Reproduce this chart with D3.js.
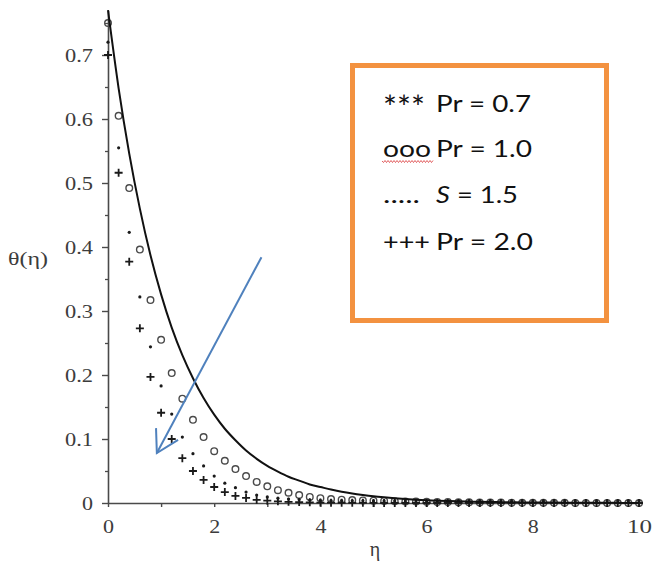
<!DOCTYPE html>
<html>
<head>
<meta charset="utf-8">
<script src="https://cdn.jsdelivr.net/npm/d3@7/dist/d3.min.js"></script>
<style>
  html, body { margin: 0; padding: 0; background: #fff; }
  svg { display: block; }
</style>
</head>
<body>
<script>
// Similarity variable grid
const eta = [
  0, 0.2, 0.4, 0.6, 0.8, 1, 1.2, 1.4, 1.6, 1.8,
  2, 2.2, 2.4, 2.6, 2.8, 3, 3.2, 3.4, 3.6, 3.8,
  4, 4.2, 4.4, 4.6, 4.8, 5, 5.2, 5.4, 5.6, 5.8,
  6, 6.2, 6.4, 6.6, 6.8, 7, 7.2, 7.4, 7.6, 7.8,
  8, 8.2, 8.4, 8.6, 8.8, 9, 9.2, 9.4, 9.6, 9.8,
  10
];

// Temperature profiles theta(eta)
const thetaPr07 = [
  0.770, 0.648, 0.546, 0.460, 0.387, 0.326, 0.274, 0.231, 0.195, 0.164,
  0.138, 0.116, 0.098, 0.082, 0.069, 0.058, 0.049, 0.041, 0.035, 0.029,
  0.025, 0.021, 0.0175, 0.0147, 0.0124, 0.0104, 0.0088, 0.0074, 0.0062, 0.0052,
  0.0044, 0.0037, 0.0031, 0.0026, 0.0022, 0.0018, 0.0015, 0.0013, 0.0011, 0.0009,
  0.0008, 0.0007, 0.0006, 0.0005, 0.0004, 0.0003, 0.0003, 0.0002, 0.0002, 0.0001,
  0.0001
];
const thetaPr10 = [
  0.750, 0.605, 0.492, 0.396, 0.317, 0.255, 0.203, 0.163, 0.130, 0.103,
  0.081, 0.066, 0.053, 0.042, 0.033, 0.026, 0.020, 0.016, 0.0125, 0.0095,
  0.0075, 0.0062, 0.0052, 0.0045, 0.0040, 0.0036, 0.0032, 0.0028, 0.0025, 0.0022,
  0.0019, 0.0016, 0.0014, 0.0012, 0.0010, 0.0008, 0.0007, 0.0006, 0.0005, 0.0004,
  0.0003, 0.0003, 0.0002, 0.0002, 0.0001, 0.0001, 0.0001, 0.0001, 0, 0,
  0
];
const thetaS15 = [
  0.720, 0.555, 0.423, 0.322, 0.244, 0.183, 0.139, 0.103, 0.077, 0.058,
  0.042, 0.031, 0.024, 0.017, 0.0125, 0.0095, 0.0075, 0.0062, 0.0053, 0.0046,
  0.0042, 0.0039, 0.0037, 0.0035, 0.0034, 0.0033, 0.0032, 0.0032, 0.0031, 0.0031,
  0.0030, 0.0030, 0.0030, 0.0030, 0.0030, 0.0030, 0.0030, 0.0030, 0.0030, 0.0030,
  0.0030, 0.0030, 0.0030, 0.0030, 0.0030, 0.0030, 0.0030, 0.0030, 0.0030, 0.0030,
  0.0030
];
const thetaPr20 = [
  0.700, 0.516, 0.377, 0.273, 0.197, 0.141, 0.100, 0.070, 0.050, 0.036,
  0.025, 0.017, 0.011, 0.008, 0.005, 0.0036, 0.0026, 0.0019, 0.0014, 0.0010,
  0.0007, 0.0005, 0.0004, 0.0003, 0.0002, 0.0001, 0, 0, 0, 0,
  0, 0, 0, 0, 0, 0, 0, 0, 0, 0,
  0, 0, 0, 0, 0, 0, 0, 0, 0, 0,
  0
];

// Axis ticks
const xTicks = [0, 1, 2, 3, 4, 5, 6, 7, 8, 9, 10];
const xTickLabels = ["0", "", "2", "", "4", "", "6", "", "8", "", "10"];
const yTicks = [0, 0.1, 0.2, 0.3, 0.4, 0.5, 0.6, 0.7];
const yTickLabels = ["0", "0.1", "0.2", "0.3", "0.4", "0.5", "0.6", "0.7"];
const yMinorTicks = [0.05, 0.15, 0.25, 0.35, 0.45, 0.55, 0.65, 0.75];

// Trend arrow (eta, theta) from tail to head
const arrowFrom = [2.89, 0.384];
const arrowTo = [0.92, 0.078];

// Legend entries
const legendSymbols = ["***", "ooo", ".....", "+++"];
const legendNames = ["Pr", "Pr", "S", "Pr"];
const legendValues = ["0.7", "1.0", "1.5", "2.0"];

const W = 653, H = 566;
const svg = d3.select("body").append("svg").attr("width", W).attr("height", H);
svg.append("rect").attr("width", W).attr("height", H).attr("fill", "#fff");

const x = d3.scaleLinear().domain([0, 10]).range([108, 639]);
const y = d3.scaleLinear().domain([0, 0.77]).range([503, 10.2]);

const axisColor = "#4a4a4a";
const serif = "'Liberation Serif', 'DejaVu Serif', serif";

// Y axis
const yAxisG = svg.append("g").attr("transform", `translate(${x(0)},0)`)
  .call(d3.axisLeft(y).tickValues(yTicks).tickSize(6).tickSizeOuter(0).tickPadding(9)
    .tickFormat((d, i) => yTickLabels[i]));
svg.append("g").attr("transform", `translate(${x(0)},0)`)
  .call(d3.axisLeft(y).tickValues(yMinorTicks).tickSize(3).tickFormat(""))
  .call(g => g.select(".domain").remove())
  .selectAll("line").attr("stroke", axisColor).attr("stroke-width", 1.3);
yAxisG.select(".domain").attr("stroke", axisColor).attr("stroke-width", 1.6);
yAxisG.selectAll(".tick line").attr("stroke", axisColor).attr("stroke-width", 1.4);
yAxisG.selectAll(".tick text")
  .attr("font-family", serif).attr("font-size", 19).attr("fill", "#3c3c3c")
  .attr("textLength", (d, i) => yTickLabels[i].length > 1 ? 28 : 11)
  .attr("lengthAdjust", "spacingAndGlyphs");

// X axis
const xAxisG = svg.append("g").attr("transform", `translate(0,${y(0)})`)
  .call(d3.axisBottom(x).tickValues(xTicks).tickSize(4).tickSizeOuter(0)
    .tickFormat((d, i) => xTickLabels[i]));
xAxisG.select(".domain").attr("stroke", axisColor).attr("stroke-width", 1.6);
xAxisG.selectAll(".tick line").attr("stroke", axisColor).attr("stroke-width", 1.4);
xAxisG.selectAll(".tick text")
  .attr("font-family", serif).attr("font-size", 19).attr("fill", "#3c3c3c")
  .attr("dy", null).attr("y", 30)
  .attr("textLength", (d, i) => xTickLabels[i].length > 1 ? 25 : (xTickLabels[i] ? 11 : null))
  .attr("lengthAdjust", "spacingAndGlyphs");

// Axis titles
svg.append("text").attr("x", 8).attr("y", 265)
  .attr("font-family", serif).attr("font-size", 18).attr("fill", "#3c3c3c")
  .attr("textLength", 40).attr("lengthAdjust", "spacingAndGlyphs")
  .text("θ(η)");
svg.append("text").attr("x", 375).attr("y", 556).attr("text-anchor", "middle")
  .attr("font-family", serif).attr("font-size", 20).attr("fill", "#3c3c3c")
  .text("η");

// Series
const pts = (vals) => eta.map((e, i) => [e, vals[i]]);

svg.append("g").selectAll("circle").data(pts(thetaPr10)).join("circle")
  .attr("cx", d => x(d[0])).attr("cy", d => y(d[1])).attr("r", 3.3)
  .attr("fill", "none").attr("stroke", "#4a4a4a").attr("stroke-width", 1.4);

svg.append("g").selectAll("circle").data(pts(thetaS15)).join("circle")
  .attr("cx", d => x(d[0])).attr("cy", d => y(d[1])).attr("r", 1.6)
  .attr("fill", "#1a1a1a");

svg.append("g").selectAll("path").data(pts(thetaPr20)).join("path")
  .attr("transform", d => `translate(${x(d[0])},${y(d[1])})`)
  .attr("d", "M-4,0H4M0,-4V4")
  .attr("stroke", "#1a1a1a").attr("stroke-width", 1.8).attr("fill", "none");

svg.append("path").datum(pts(thetaPr07))
  .attr("d", d3.line().x(d => x(d[0])).y(d => y(d[1])).curve(d3.curveMonotoneX))
  .attr("fill", "none").attr("stroke", "#111").attr("stroke-width", 2);

// Arrow showing the direction of increasing Pr
const ax0 = x(arrowFrom[0]), ay0 = y(arrowFrom[1]);
const ax1 = x(arrowTo[0]), ay1 = y(arrowTo[1]);
const ang = Math.atan2(ay0 - ay1, ax0 - ax1);
const headLen = 25, headAng = 30 * Math.PI / 180;
const arrowColor = "#4f81bd";
svg.append("line").attr("x1", ax0).attr("y1", ay0).attr("x2", ax1).attr("y2", ay1)
  .attr("stroke", arrowColor).attr("stroke-width", 2);
svg.append("path")
  .attr("d", `M${ax1 + headLen * Math.cos(ang - headAng)},${ay1 + headLen * Math.sin(ang - headAng)}` +
             `L${ax1},${ay1}` +
             `L${ax1 + headLen * Math.cos(ang + headAng)},${ay1 + headLen * Math.sin(ang + headAng)}`)
  .attr("fill", "none").attr("stroke", arrowColor).attr("stroke-width", 2)
  .attr("stroke-linejoin", "miter");

// Legend box
const lg = svg.append("g");
lg.append("rect").attr("x", 352.5).attr("y", 65.5).attr("width", 254).attr("height", 255)
  .attr("fill", "#fff").attr("stroke", "#f39240").attr("stroke-width", 5);

const sans = "Lato, 'Open Sans', sans-serif";
const baselines = [112, 157, 203, 250];
const symLen = [42, 48, 37, 47];
const labLen = [95, 96, 82, 97];
legendSymbols.forEach((s, i) => {
  const big = s === "***";
  lg.append("text").attr("x", 383).attr("y", baselines[i] + (big ? 7 : 0))
    .attr("font-family", sans).attr("font-size", big ? 32 : 24).attr("fill", "#111")
    .attr("textLength", symLen[i]).attr("lengthAdjust", "spacingAndGlyphs")
    .text(s);
  const t = lg.append("text").attr("x", 436).attr("y", baselines[i])
    .attr("font-family", sans).attr("font-size", 24).attr("fill", "#111")
    .attr("textLength", labLen[i]).attr("lengthAdjust", "spacingAndGlyphs");
  t.append("tspan").attr("font-style", legendNames[i] === "S" ? "italic" : "normal").text(legendNames[i]);
  t.append("tspan").text(" = " + legendValues[i]);
});

// Spell-check squiggle under "ooo"
let wave = "M382,161";
for (let k = 0, px = 382; px < 432; k++) {
  px += 1.5;
  wave += `L${px},${k % 2 === 0 ? 162.5 : 160.5}`;
}
lg.append("path").attr("d", wave).attr("fill", "none").attr("stroke", "#d9383a").attr("stroke-width", 0.8);
</script>
</body>
</html>
